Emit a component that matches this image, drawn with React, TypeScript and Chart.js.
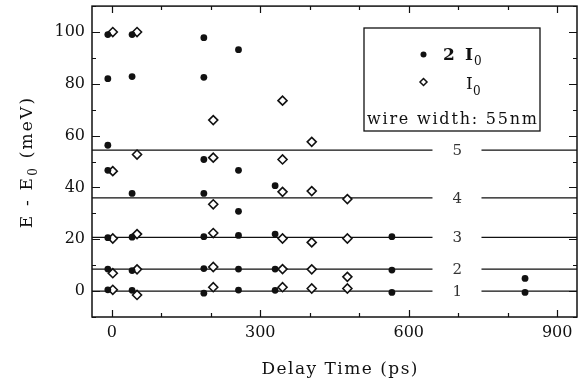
import React, { useEffect, useRef } from 'react';
import { Chart, registerables } from 'chart.js';

Chart.register(...registerables);

// ---- Data ----
// 2 I0 (filled circles)
const doubleX = [-8, -8, -8, -8, -8, -8, -8, 41, 41, 41, 41, 41, 41, 186, 186, 186, 186, 186, 186, 186, 256, 256, 256, 256, 256, 256, 330, 330, 330, 330, 566, 566, 566, 835, 835];
const doubleY = [99, 82, 56.3, 46.6, 20.6, 8.5, 0.5, 99, 82.8, 37.7, 20.8, 7.9, 0.3, 97.8, 82.5, 50.8, 37.7, 21, 8.7, -0.8, 93.2, 46.6, 30.8, 21.5, 8.5, 0.4, 40.7, 22, 8.5, 0.3, 21, 8.1, -0.5, 4.9, -0.5];
// I0 (open diamonds)
const singleX = [2, 2, 2, 2, 2, 51, 51, 51, 51, 51, 205, 205, 205, 205, 205, 205, 345, 345, 345, 345, 345, 345, 404, 404, 404, 404, 404, 476, 476, 476, 476];
const singleY = [100, 46.3, 20.3, 6.9, 0.5, 100, 52.7, 22, 8.4, -1.5, 66, 51.5, 33.5, 22.4, 9.3, 1.5, 73.5, 50.8, 38.3, 20.3, 8.5, 1.5, 57.6, 38.6, 18.8, 8.4, 1, 35.5, 20.3, 5.5, 1];
// Level lines
const levelValues = [0, 8.5, 20.7, 36.0, 54.4];
const levelLabels = ['1', '2', '3', '4', '5'];
const levelGap = [648, 747];
const levelLabelX = 698;
// Axes
const xMin = -40;
const xMax = 940;
const yMin = -10;
const yMax = 110;
const xTickValues = [0, 100, 200, 300, 400, 500, 600, 700, 800, 900];
const yTickValues = [-10, 0, 10, 20, 30, 40, 50, 60, 70, 80, 90, 100, 110];
const xTickLabels = [0, 300, 600, 900];
const yTickLabels = [0, 20, 40, 60, 80, 100];
const xTitle = 'Delay Time (ps)';
const legendDouble = ['2 I', '0'];
const legendSingle = ['I', '0'];
const legendNote = 'wire width: 55nm';

const INK = '#111';
const SERIF = '"DejaVu Serif", "Liberation Serif", serif';

function spacedWidth(ctx: CanvasRenderingContext2D, text: string, sp: number) {
  let w = 0;
  for (const ch of text) w += ctx.measureText(ch).width + sp;
  return w - sp;
}
function drawSpaced(ctx: CanvasRenderingContext2D, text: string, x: number, y: number, sp: number) {
  let cx = x;
  for (const ch of text) {
    ctx.fillText(ch, cx, y);
    cx += ctx.measureText(ch).width + sp;
  }
  return cx - sp;
}
function fitSpacing(ctx: CanvasRenderingContext2D, text: string, target: number) {
  const n = Array.from(text).length;
  const nat = spacedWidth(ctx, text, 0);
  return Math.max(0, (target - nat) / (n - 1));
}

const decorPlugin = {
  id: 'decor',
  afterDatasetsDraw(chart: any) {
    const ctx: CanvasRenderingContext2D = chart.ctx;
    const { left, right, top, bottom } = chart.chartArea;
    const xs = chart.scales.x;
    const ys = chart.scales.y;
    ctx.save();
    // frame
    ctx.strokeStyle = INK;
    ctx.lineWidth = 1.5;
    ctx.strokeRect(left, top, right - left, bottom - top);
    // inward ticks
    ctx.lineWidth = 1.2;
    ctx.beginPath();
    xTickValues.forEach((v) => {
      const px = Math.round(xs.getPixelForValue(v)) + 0.5;
      const len = xTickLabels.includes(v) ? 7 : 4;
      ctx.moveTo(px, bottom); ctx.lineTo(px, bottom - len);
      ctx.moveTo(px, top); ctx.lineTo(px, top + len);
    });
    yTickValues.forEach((v) => {
      const py = Math.round(ys.getPixelForValue(v)) + 0.5;
      const len = v % 20 === 0 ? 8 : 4;
      ctx.moveTo(left, py); ctx.lineTo(left + len, py);
      ctx.moveTo(right, py); ctx.lineTo(right - len, py);
    });
    ctx.stroke();

    // level labels
    ctx.fillStyle = '#333';
    ctx.font = `15px ${SERIF}`;
    ctx.textAlign = 'center';
    ctx.textBaseline = 'middle';
    levelValues.forEach((v, i) => {
      ctx.fillText(levelLabels[i], xs.getPixelForValue(levelLabelX), ys.getPixelForValue(v) + 1);
    });

    // axis titles
    ctx.fillStyle = INK;
    ctx.textAlign = 'left';
    ctx.textBaseline = 'alphabetic';
    ctx.font = `17px ${SERIF}`;
    const sp = fitSpacing(ctx, xTitle, 156);
    const w = spacedWidth(ctx, xTitle, sp);
    drawSpaced(ctx, xTitle, 339.5 - w / 2, 374, sp);

    // y title: "E - E0 (meV)"
    ctx.save();
    ctx.translate(32, 163);
    ctx.rotate(-Math.PI / 2);
    const p1 = 'E - E';
    const p3 = ' (meV)';
    ctx.font = `17px ${SERIF}`;
    const ysp = 2.2;
    const w1 = spacedWidth(ctx, p1, ysp);
    const w3 = spacedWidth(ctx, p3, ysp);
    ctx.font = `12px ${SERIF}`;
    const w2 = ctx.measureText('0').width;
    const total = w1 + ysp + w2 + ysp + w3;
    let cx = -total / 2;
    ctx.font = `17px ${SERIF}`;
    drawSpaced(ctx, p1, cx, 0, ysp);
    cx += w1 + ysp;
    ctx.font = `12px ${SERIF}`;
    ctx.fillText('0', cx, 5);
    cx += w2 + ysp;
    ctx.font = `17px ${SERIF}`;
    drawSpaced(ctx, p3, cx, 0, ysp);
    ctx.restore();

    // legend box
    ctx.lineWidth = 1.3;
    ctx.strokeStyle = INK;
    ctx.fillStyle = '#fff';
    ctx.fillRect(364, 28, 176, 103);
    ctx.strokeRect(364, 28, 176, 103);
    ctx.fillStyle = INK;
    ctx.beginPath();
    ctx.arc(423.5, 54.5, 3, 0, Math.PI * 2);
    ctx.fill();
    ctx.font = `bold 17px ${SERIF}`;
    ctx.fillText(legendDouble[0][0], 443, 59.5);
    ctx.fillText(legendDouble[0][2], 465, 59.5);
    ctx.font = `12px ${SERIF}`;
    ctx.fillText(legendDouble[1], 474, 65);
    // diamond
    ctx.lineWidth = 1.5;
    ctx.beginPath();
    ctx.moveTo(423.5, 78.5); ctx.lineTo(427, 82); ctx.lineTo(423.5, 85.5); ctx.lineTo(420, 82); ctx.closePath();
    ctx.stroke();
    ctx.font = `17px ${SERIF}`;
    ctx.fillText(legendSingle[0], 466, 88.5);
    ctx.font = `12px ${SERIF}`;
    ctx.fillText(legendSingle[1], 473, 95);
    ctx.font = `16px ${SERIF}`;
    const nsp = fitSpacing(ctx, legendNote, 170);
    drawSpaced(ctx, legendNote, 367, 123.5, nsp);
    ctx.restore();
  },
};

export default function App() {
  const ref = useRef<HTMLCanvasElement | null>(null);
  useEffect(() => {
    if (!ref.current) return;
    const lineSets = levelValues.map((v) => ({
      type: 'line' as const,
      data: [
        { x: xMin, y: v },
        { x: levelGap[0], y: v },
        { x: levelLabelX, y: null },
        { x: levelGap[1], y: v },
        { x: xMax, y: v },
      ],
      showLine: true,
      spanGaps: false,
      borderColor: INK,
      borderWidth: 1.3,
      pointRadius: 0,
      order: 2,
    }));
    const chart = new Chart(ref.current, {
      type: 'scatter',
      data: {
        datasets: [
          {
            label: '2 I0',
            data: doubleX.map((x, i) => ({ x, y: doubleY[i] })),
            pointStyle: 'circle',
            pointRadius: 3.4,
            backgroundColor: INK,
            borderColor: INK,
            borderWidth: 0,
            order: 0,
          },
          {
            label: 'I0',
            data: singleX.map((x, i) => ({ x, y: singleY[i] })),
            pointStyle: 'rectRot',
            pointRadius: 4.5,
            backgroundColor: '#fff',
            borderColor: INK,
            borderWidth: 1.6,
            order: 1,
          },
          ...lineSets,
        ] as any,
      },
      options: {
        animation: false,
        responsive: true,
        maintainAspectRatio: false,
        layout: { padding: { top: 5, right: 9, left: 0, bottom: 0 } },
        plugins: { legend: { display: false }, tooltip: { enabled: false } },
        scales: {
          x: {
            type: 'linear',
            min: xMin,
            max: xMax,
            grid: { display: false, drawTicks: false },
            border: { display: false },
            afterBuildTicks: (s: any) => { s.ticks = xTickValues.map((value) => ({ value })); },
            afterFit: (s: any) => { s.height = 64; s.paddingLeft = 0; s.paddingRight = 0; },
            ticks: {
              autoSkip: false,
              maxRotation: 0,
              padding: 6,
              color: INK,
              font: { family: SERIF, size: 16 },
              callback: (v: any) => (xTickLabels.includes(Number(v)) ? String(v) : ''),
            },
          },
          y: {
            type: 'linear',
            min: yMin,
            max: yMax,
            grid: { display: false, drawTicks: false },
            border: { display: false },
            afterBuildTicks: (s: any) => { s.ticks = yTickValues.map((value) => ({ value })); },
            afterFit: (s: any) => { s.width = 92; s.paddingTop = 0; s.paddingBottom = 0; },
            ticks: {
              autoSkip: false,
              padding: 7,
              color: INK,
              font: { family: SERIF, size: 16 },
              callback: (v: any) => (yTickLabels.includes(Number(v)) ? String(v) : ''),
            },
          },
        },
      } as any,
      plugins: [decorPlugin],
    });
    return () => chart.destroy();
  }, []);
  return (
    <div style={{ position: 'fixed', left: 0, top: 0, width: 586, height: 381, background: '#fff' }}>
      <canvas ref={ref} />
    </div>
  );
}
